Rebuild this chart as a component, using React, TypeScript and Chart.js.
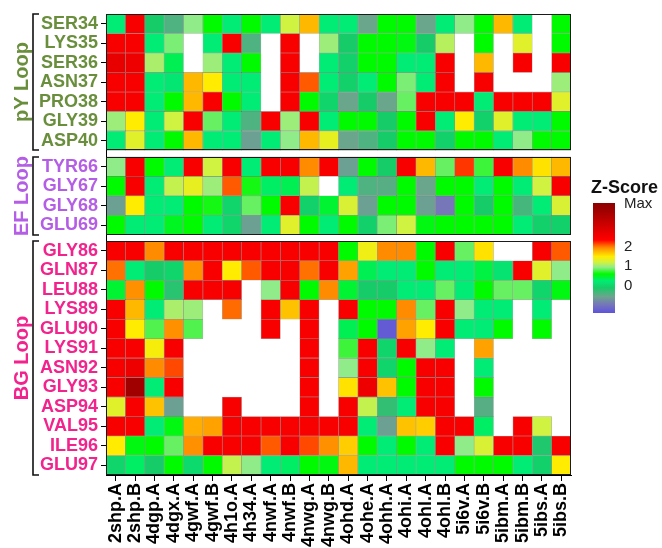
import React, { useEffect, useRef } from "react";
import { Chart, registerables } from "chart.js";

Chart.register(...registerables);

const xLabels = [
  "2shp.A", "2shp.B", "4dgp.A", "4dgx.A", "4gwf.A", "4gwf.B", "4h1o.A", "4h34.A",
  "4nwf.A", "4nwf.B", "4nwg.A", "4nwg.B", "4ohd.A", "4ohe.A", "4ohh.A", "4ohi.A",
  "4ohl.A", "4ohl.B", "5i6v.A", "5i6v.B", "5ibm.A", "5ibm.B", "5ibs.A", "5ibs.B",
];

const pyRows = ["SER34", "LYS35", "SER36", "ASN37", "PRO38", "GLY39", "ASP40"];
const efRows = ["TYR66", "GLY67", "GLY68", "GLU69"];
const bgRows = ["GLY86", "GLN87", "LEU88", "LYS89", "GLU90", "LYS91", "ASN92", "GLY93", "ASP94", "VAL95", "ILE96", "GLU97"];

const N = null;

const pyValues: (number | null)[][] = [
  [0.2, 2.4, -0.15, -0.45, 0.9, 0.55, 0.2, 0.55, 0.2, 1.15, 1.7, 0.2, 0.2, -0.6, 0.55, 0.55, -0.6, 0.2, 0.9, 0.55, 1.7, 0.2, N, 0.55],
  [2.4, 2.4, 0.2, 0.85, N, 0.2, 2.4, -0.45, N, 2.4, N, 0.95, -0.15, 0.55, 0.55, 0.5, -0.15, 1.05, N, 0.55, N, 1.25, N, 0.55],
  [2.7, 2.6, 1.0, 0.3, N, 0.95, 0.2, 0.55, N, 2.4, N, 0.2, -0.1, 0.55, 0.55, 0.2, 0.2, 2.4, N, 1.7, N, 2.4, N, 2.4],
  [2.4, 2.4, 0.2, 0.15, 1.7, 1.45, 0.2, 0.2, N, 2.4, 2.05, 0.2, -0.1, 0.2, 0.55, 0.85, 0.2, 2.4, N, 2.4, N, N, N, 0.95],
  [2.4, 2.4, 0.2, 0.55, 1.7, 2.4, 0.55, 0.2, N, 2.4, 0.55, -0.05, -0.6, -0.15, -0.6, 0.8, 2.4, 2.4, 2.4, 0.2, 2.4, 2.4, 2.4, 1.25],
  [0.95, 1.45, 0.2, 1.15, 2.4, 0.8, 0.2, -0.45, 2.4, 0.95, 2.4, 0.2, 0.55, 0.55, -0.15, 0.55, 2.4, 0.2, 1.45, -0.1, 1.25, 0.2, 0.2, 0.55],
  [0.2, 1.25, 0.2, 0.55, 1.7, 0.2, 0.2, -0.65, 0.2, 0.9, 1.7, 1.3, -0.6, -0.45, -0.15, 0.55, 0.55, -0.1, 0.55, 0.55, 0.2, 0.9, 0.55, 0.55],
];

const efValues: (number | null)[][] = [
  [0.9, 2.4, 0.55, 0.2, 2.4, 1.15, 2.4, 0.2, 2.4, 2.4, 1.9, 2.4, -0.65, 0.55, -0.15, 2.4, 1.7, 0.8, 2.15, 0.7, 2.4, 1.9, 1.5, 1.7],
  [0.55, 2.4, 0.2, 1.1, 1.3, 0.95, 2.05, 0.6, 0.25, 0.3, 1.1, N, 0.2, -0.45, -0.5, 0.55, -0.6, 0.55, 0.55, 0.2, 0.55, 0.2, 1.15, 2.4],
  [-0.65, 1.45, 0.2, 0.2, 0.55, 0.6, -0.05, 0.8, 0.55, 2.4, -0.1, 0.4, 1.2, -0.65, 0.55, 0.55, -0.65, -1.0, 0.55, -0.15, 0.55, -0.4, 0.2, 1.2],
  [0.55, 0.2, 0.2, 0.45, 0.55, 0.2, -0.05, -0.65, 0.2, 1.25, 0.55, 0.2, 0.55, -0.1, 0.85, 1.15, 0.5, 0.55, 0.55, 0.55, 0.55, 0.2, -0.1, -0.1],
];

const bgValues: (number | null)[][] = [
  [2.4, 2.4, 1.9, 2.4, 2.4, 2.4, 2.4, 2.4, 2.4, 2.4, 2.4, 2.4, 0.55, 1.35, 1.9, 1.9, 0.55, 2.4, 0.8, 1.5, N, N, 2.4, 2.05],
  [1.98, 0.2, -0.15, -0.05, 1.88, 2.4, 1.45, 2.05, 2.4, 2.4, 1.98, 2.4, 1.8, 0.3, 0.2, 0.2, 0.55, 0.2, 0.2, 0.35, 0.1, 2.4, 1.25, 0.9],
  [0.4, 1.88, 0.55, -0.25, 2.4, 2.4, 2.4, N, 0.9, 2.4, 0.55, 1.9, 0.4, -0.15, -0.15, 0.2, 0.2, 0.8, 0.2, 0.55, 0.8, 0.8, -0.05, 0.5],
  [2.4, 1.7, 0.2, 1.0, 0.95, N, 2.0, N, 2.4, 1.65, 2.4, N, 2.4, 0.55, 0.55, 1.9, 0.8, 2.4, 0.9, 0.2, 0.2, N, 0.2, N],
  [2.4, 1.45, 0.75, 1.88, 0.75, N, N, N, 2.4, N, 2.4, N, 0.3, 0.55, -1.35, 1.8, 1.45, 2.4, 0.2, 0.2, 0.55, N, 0.55, N],
  [2.4, 2.4, 1.4, 2.4, N, N, N, N, N, N, 2.4, N, 0.7, 2.4, -0.05, 2.4, 0.9, 0.2, N, 1.8, N, N, N, N],
  [2.4, 2.6, 1.9, 2.1, N, N, N, N, N, N, 2.4, N, 0.9, 2.4, -0.05, 0.55, 2.4, 2.4, N, 0.2, N, N, N, N],
  [2.4, 3.8, 0.2, 2.4, N, N, N, N, N, N, 2.4, N, 1.5, 2.6, 1.65, 0.55, 2.4, 2.4, N, 0.55, N, N, N, N],
  [1.25, 2.4, 1.65, -0.65, N, N, 2.4, N, N, N, 2.4, N, 2.4, 1.1, -0.3, 0.2, 2.4, 2.4, N, -0.5, N, N, N, N],
  [2.4, 2.4, 0.2, 0.5, 1.75, 1.8, 2.4, 2.4, 2.4, 2.4, 2.4, 2.4, 2.4, 0.2, -0.65, 1.65, 1.6, 2.4, 2.4, 0.25, N, 2.4, 1.15, N],
  [1.45, 0.5, 0.55, 0.8, 1.88, 2.4, 2.4, 2.4, 2.05, 2.4, 2.1, 1.88, 1.6, 0.55, 0.2, 0.55, 0.2, 2.4, 0.9, 1.2, 2.4, 2.4, -0.2, 2.4],
  [-0.05, 0.25, -0.15, 0.55, 0.0, 0.55, 1.1, 0.9, 0.2, 0.25, 0.55, 0.5, 1.7, 0.2, 0.2, 0.2, 0.2, 0.2, 0.55, 0.55, 0.55, 0.2, -0.1, 1.45],
];

const legendTicks = [
  { label: "Max", value: 4.2 },
  { label: "2", value: 2 },
  { label: "1", value: 1 },
  { label: "0", value: 0 },
];
const legendMin = -1.45;
const legendMax = 4.2;

const colorStops: [number, string][] = [
  [-1.5, "#5a4fe0"],
  [-1.0, "#7677b8"],
  [-0.6, "#6aa68c"],
  [-0.15, "#16cc68"],
  [0.2, "#00ec74"],
  [0.55, "#00fa00"],
  [0.9, "#90ec88"],
  [1.15, "#d0f240"],
  [1.45, "#ffec00"],
  [1.7, "#ffb800"],
  [1.9, "#ff8c00"],
  [2.05, "#ff5a00"],
  [2.3, "#ff0000"],
  [2.6, "#ee0000"],
  [3.8, "#a00000"],
  [4.3, "#880000"],
];

const FONT = '"Liberation Sans", Arial, Helvetica, sans-serif';

function hexToRgb(h: string) {
  const n = parseInt(h.slice(1), 16);
  return [(n >> 16) & 255, (n >> 8) & 255, n & 255];
}

function colorFor(v: number): string {
  if (v <= colorStops[0][0]) return colorStops[0][1];
  for (let i = 1; i < colorStops.length; i++) {
    const [v1, c1] = colorStops[i];
    if (v <= v1) {
      const [v0, c0] = colorStops[i - 1];
      const t = (v - v0) / (v1 - v0);
      const a = hexToRgb(c0);
      const b = hexToRgb(c1);
      const r = a.map((x, k) => Math.round(x + (b[k] - x) * t));
      return `rgb(${r[0]},${r[1]},${r[2]})`;
    }
  }
  return colorStops[colorStops.length - 1][1];
}

const groups = [
  { name: "pY Loop", rows: pyRows, values: pyValues, color: "#6a8f3c" },
  { name: "EF Loop", rows: efRows, values: efValues, color: "#b45ee6" },
  { name: "BG Loop", rows: bgRows, values: bgValues, color: "#f2238c" },
];

const GAP = 1 / 3;

export default function App() {
  const ref = useRef<HTMLCanvasElement | null>(null);

  useEffect(() => {
    if (!ref.current) return;
    const datasets: any[] = [];
    const rowCenters: number[] = [];
    const rowLabels: string[] = [];
    const rowColors: string[] = [];
    const groupSpans: { start: number; end: number }[] = [];
    let idx = 0;
    groups.forEach((g, gi) => {
      const start = idx + gi * GAP;
      g.rows.forEach((rowName, ri) => {
        const top = idx + gi * GAP;
        rowCenters.push(top + 0.5);
        rowLabels.push(rowName);
        rowColors.push(g.color);
        const vals = g.values[ri];
        datasets.push({
          label: rowName,
          data: vals.map((v) => (v === null ? null : [top, top + 1])),
          backgroundColor: vals.map((v) => (v === null ? "rgba(0,0,0,0)" : colorFor(v))),
          borderColor: "rgba(0,0,0,0.32)",
          borderWidth: 0.6,
          borderSkipped: false,
          grouped: false,
          barPercentage: 1,
          categoryPercentage: 1,
        });
        idx++;
      });
      groupSpans.push({ start, end: idx + gi * GAP });
    });
    const total = idx + (groups.length - 1) * GAP;

    const overlay = {
      id: "overlay",
      afterDraw(chart: any) {
        const ctx = chart.ctx as CanvasRenderingContext2D;
        const { left, right } = chart.chartArea;
        const y = chart.scales.y;
        ctx.save();
        groups.forEach((g, gi) => {
          const top = Math.round(y.getPixelForValue(groupSpans[gi].start));
          const bottom = Math.round(y.getPixelForValue(groupSpans[gi].end));
          ctx.strokeStyle = "#1a1a1a";
          ctx.lineWidth = 1;
          ctx.strokeRect(left + 0.5, top + 0.5, right - left - 1, bottom - top - 1);
          // bracket
          ctx.beginPath();
          ctx.lineWidth = 1.6;
          ctx.strokeStyle = "#111";
          ctx.moveTo(39, top);
          ctx.lineTo(33, top);
          ctx.lineTo(33, bottom);
          ctx.lineTo(39, bottom);
          ctx.stroke();
          // group label
          ctx.save();
          ctx.translate(28, (top + bottom) / 2);
          ctx.rotate(-Math.PI / 2);
          ctx.font = `bold 20px ${FONT}`;
          ctx.fillStyle = g.color;
          ctx.textAlign = "center";
          ctx.textBaseline = "alphabetic";
          ctx.fillText(g.name, 0, 0);
          ctx.restore();
        });

        // legend
        const barX = 593, barW = 22, barTop = 203, barBottom = 313;
        const grad = ctx.createLinearGradient(0, barBottom, 0, barTop);
        grad.addColorStop(0, colorFor(legendMin));
        colorStops.forEach(([v]) => {
          const t = (v - legendMin) / (legendMax - legendMin);
          if (t > 0 && t < 1) grad.addColorStop(t, colorFor(v));
        });
        grad.addColorStop(1, colorFor(legendMax));
        ctx.fillStyle = grad;
        ctx.fillRect(barX, barTop, barW, barBottom - barTop);
        ctx.fillStyle = "#111";
        ctx.font = `bold 18px ${FONT}`;
        ctx.textAlign = "center";
        ctx.textBaseline = "alphabetic";
        ctx.fillText("Z-Score", 624.5, 193);
        ctx.font = `15px ${FONT}`;
        ctx.textAlign = "left";
        ctx.textBaseline = "middle";
        ctx.fillStyle = "#222";
        legendTicks.forEach((t) => {
          const py = barBottom - ((t.value - legendMin) / (legendMax - legendMin)) * (barBottom - barTop);
          ctx.fillText(t.label, 624, py + 1);
        });
        ctx.restore();
      },
    };

    const chart = new Chart(ref.current, {
      type: "bar",
      data: { labels: xLabels, datasets },
      options: {
        responsive: false,
        animation: false,
        events: [],
        layout: { padding: { left: 0, right: 91, top: 14, bottom: 0 } },
        plugins: { legend: { display: false }, tooltip: { enabled: false }, title: { display: false } },
        scales: {
          x: {
            type: "category",
            offset: true,
            grid: { display: true, drawOnChartArea: false, drawTicks: true, tickLength: 6, color: "#000", offset: false },
            border: { display: true, color: "#000", width: 1 },
            ticks: {
              autoSkip: false,
              maxRotation: 90,
              minRotation: 90,
              padding: 2,
              color: "#000",
              font: { family: FONT, weight: "bold", size: 18 },
            },
            afterFit: (scale: any) => {
              scale.height = 73;
            },
          },
          y: {
            type: "linear",
            reverse: true,
            min: 0,
            max: total,
            grid: { display: true, drawOnChartArea: false, drawTicks: true, tickLength: 5, color: "#000" },
            border: { display: true, color: "#000", width: 1 },
            afterBuildTicks: (scale: any) => {
              scale.ticks = rowCenters.map((v) => ({ value: v }));
            },
            afterFit: (scale: any) => {
              scale.width = 106;
            },
            ticks: {
              autoSkip: false,
              padding: 3,
              font: { family: FONT, weight: "bold", size: 18 },
              color: (c: any) => rowColors[c.index] || "#000",
              callback: (_v: any, i: number) => rowLabels[i],
            },
          },
        },
      } as any,
      plugins: [overlay],
    });
    return () => chart.destroy();
  }, []);

  return (
    <div style={{ position: "absolute", left: 0, top: 0, width: 662, height: 548, background: "#fff" }}>
      <canvas ref={ref} width={662} height={548} />
    </div>
  );
}
